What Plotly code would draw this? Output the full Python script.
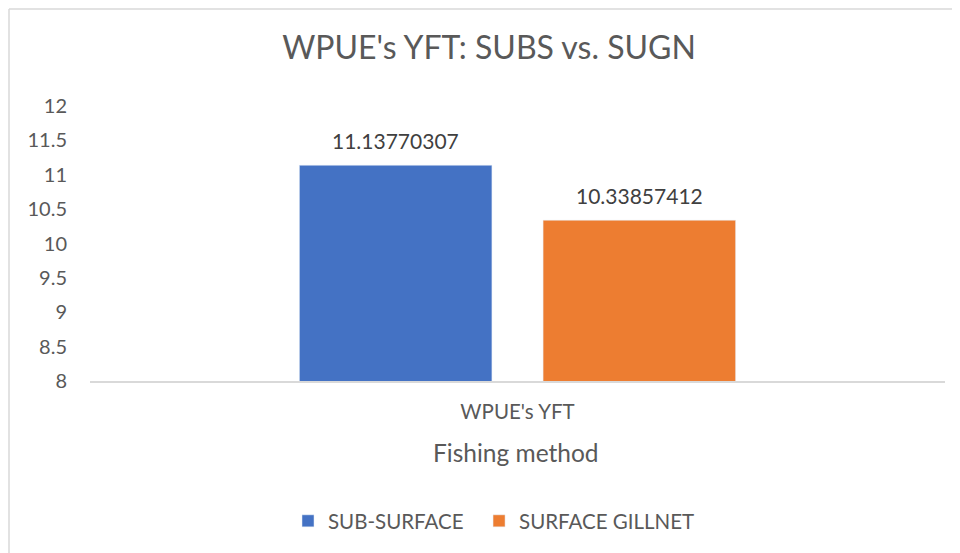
import plotly.graph_objects as go

CATEGORY = ["WPUE's YFT"]
SERIES = ["SUB-SURFACE", "SURFACE GILLNET"]
VALUES = [11.13770307, 10.33857412]
COLORS = ["#4472C4", "#ED7D31"]
Y_TICKS = [8, 8.5, 9, 9.5, 10, 10.5, 11, 11.5, 12]

FONT = "Lato, Calibri, 'Open Sans', sans-serif"
TEXT = "#595959"

# page body has an 8px margin, so the figure is laid out 8px in from the window
OFF = 8
W, H = 960 - OFF, 553 - OFF
L, R, T, B = 90 - OFF, 15, 106 - OFF, 172
PW, PH = W - L - R, H - T - B


def px_x(sx):
    return (sx - OFF - L) / PW


def px_y(sy):
    return (H - B - (sy - OFF)) / PH


fig = go.Figure()
for i, (name, val, col) in enumerate(zip(SERIES, VALUES, COLORS)):
    # a little extra room after the first legend entry
    label = name + ("&nbsp;&nbsp;" if i == 0 else "")
    fig.add_bar(x=CATEGORY, y=[val], name=label, marker_color=col)

# value labels above the bars
for i, val in enumerate(VALUES):
    fig.add_annotation(x=CATEGORY[0], y=val, text=f"{val:.8f}",
                       xshift=-122 if i == 0 else 122, yshift=25,
                       yanchor="middle", showarrow=False,
                       font=dict(size=21, color="#404040", family=FONT))

fig.update_layout(
    width=W, height=H,
    margin=dict(l=L, r=R, t=T, b=B),
    paper_bgcolor="white", plot_bgcolor="white",
    font=dict(family=FONT, color=TEXT),
    barmode="group", bargap=0.43, bargroupgap=0.21,
    title=dict(text="WPUE's YFT: SUBS vs. SUGN", x=px_x(489) * PW / W + L / W,
               xanchor="center", y=1 - (48 - OFF) / H, yanchor="middle",
               font=dict(size=32, color=TEXT, family=FONT)),
    yaxis=dict(range=[8, 12], tickvals=Y_TICKS, showgrid=False,
               zeroline=False, showline=False, ticks="",
               ticklabelstandoff=22,
               tickfont=dict(size=20, color=TEXT)),
    xaxis=dict(showline=True, linecolor="#D9D9D9", linewidth=1.5,
               ticks="", ticklabelstandoff=12,
               tickfont=dict(size=20.5, color=TEXT)),
    legend=dict(orientation="h", x=px_x(494), xanchor="center",
                y=px_y(521), yanchor="middle",
                font=dict(size=20.5, color=TEXT)),
    showlegend=True,
)

fig.add_annotation(text="Fishing method", xref="paper", yref="paper",
                   x=px_x(516), y=px_y(452),
                   xanchor="center", yanchor="middle", showarrow=False,
                   font=dict(size=24.5, color=TEXT, family=FONT))

# chart border: only the top and left edges are visible in the reference
for x0, y0, x1, y1 in [(0, 0, W + 20, 0), (0, 0, 0, H + 20)]:
    fig.add_shape(type="line", xref="paper", yref="paper",
                  x0=(x0 + 1 - L) / PW, x1=(x1 + 1 - L) / PW,
                  y0=(H - B - y0 - 1) / PH, y1=(H - B - y1 - 1) / PH,
                  line=dict(color="#D9D9D9", width=1.5), layer="below")

fig.write_html("out.html")
